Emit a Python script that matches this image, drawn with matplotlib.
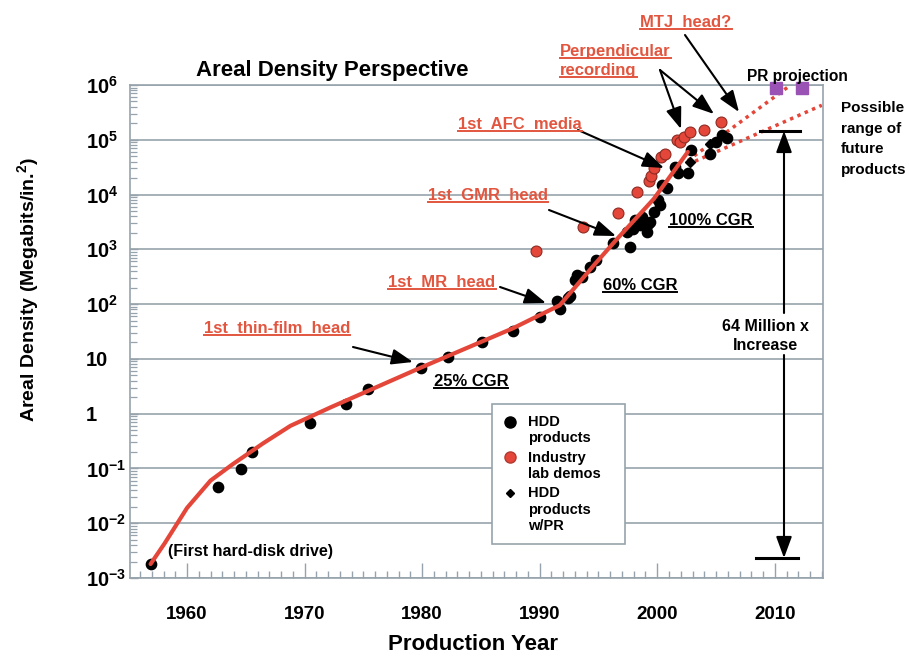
import numpy as np
import matplotlib
matplotlib.use('Agg')
import matplotlib.pyplot as plt
from matplotlib.lines import Line2D
from matplotlib.transforms import IdentityTransform
from matplotlib.ticker import FixedLocator, MultipleLocator, NullFormatter

plt.rcParams['font.family'] = ['Liberation Sans', 'DejaVu Sans']
plt.rcParams['font.weight'] = 'bold'
plt.rcParams['mathtext.fontset'] = 'custom'
plt.rcParams['mathtext.rm'] = 'Liberation Sans:bold'
plt.rcParams['mathtext.bf'] = 'Liberation Sans:bold'
plt.rcParams['mathtext.it'] = 'Liberation Sans:bold'

# ---------------- data ----------------
hdd_years = [1956.9, 1962.6, 1964.6, 1965.5, 1970.5, 1973.5, 1975.4, 1979.9, 1982.2,
             1985.1, 1987.7, 1990.0, 1991.7, 1991.5, 1992.4, 1992.6, 1993.0, 1993.2,
             1993.6, 1994.3, 1994.8, 1996.2, 1997.7, 1997.4, 1997.9, 1998.1, 1998.5,
             1998.7, 1999.1, 1999.2, 1999.4, 1999.7, 2000.1, 2000.2, 2000.4, 2000.8,
             2001.5, 2001.8, 2002.6, 2002.9, 2004.5, 2005.0, 2005.5, 2005.9]
hdd_density = [0.0018, 0.046, 0.098, 0.2, 0.67, 1.5, 2.8, 6.8, 11,
               20, 32, 57, 83, 115, 130, 140, 275, 340,
               318, 480, 630, 1280, 1100, 2100, 2400, 3400, 2750,
               3900, 2100, 2950, 3150, 4800, 8000, 6400, 14800, 12900,
               32000, 24500, 25000, 65000, 56000, 92000, 123000, 107000]

demo_years = [1989.7, 1993.7, 1996.7, 1998.3, 1999.3, 1999.5, 1999.7, 2000.3, 2000.7,
              2001.7, 2001.9, 2002.3, 2002.8, 2004.0, 2005.4]
demo_density = [950, 2600, 4700, 11000, 18000, 22000, 30000, 49000, 56000,
                100000, 92000, 113000, 137000, 150000, 215000]

pr_years = [2002.8, 2004.5]
pr_density = [40000, 85000]

proj_years = [2010.1, 2012.3]
proj_density = [870000, 870000]

trend_years = [1956.9, 1958.1, 1960.0, 1962.0, 1963.9, 1966.5, 1968.8, 1972.2, 1979.8,
               1987.7, 1990.0, 1991.7, 1994.6, 1996.5, 1999.7, 2002.6]
trend_density = [0.0018, 0.0043, 0.019, 0.06, 0.12, 0.29, 0.6, 1.3, 6.8,
                 36, 63, 95, 510, 1480, 8300, 60000]

upper_years = [2002.6, 2011.1]
upper_density = [41700, 912000]
lower_years = [2002.6, 2014.0]
lower_density = [35500, 427000]

xtick_years = [1960, 1970, 1980, 1990, 2000, 2010]
ytick_values = [1e-3, 1e-2, 1e-1, 1, 10, 1e2, 1e3, 1e4, 1e5, 1e6]
ytick_labels = [r'$\mathbf{10^{-3}}$', r'$\mathbf{10^{-2}}$', r'$\mathbf{10^{-1}}$', '1', '10',
                r'$\mathbf{10^{2}}$', r'$\mathbf{10^{3}}$', r'$\mathbf{10^{4}}$',
                r'$\mathbf{10^{5}}$', r'$\mathbf{10^{6}}$']

# ---------------- style ----------------
W, H = 909, 657
RED = '#e4473a'
RED_TXT = '#e2553f'
RED_EDGE = '#8e2a22'
GRAY = '#97a3ac'
PURPLE = '#9a52b5'

fig = plt.figure(figsize=(W / 100, H / 100), dpi=100)
fig.patch.set_facecolor('white')
ax = fig.add_axes([130 / W, (H - 578) / H, 693 / W, 493 / H])

ax.set_yscale('log')
ax.set_xlim(1955.15, 2014.1)
ax.set_ylim(1e-3, 1e6)

for s in ax.spines.values():
    s.set_color(GRAY)
    s.set_linewidth(1.2)

ax.yaxis.set_major_locator(FixedLocator(ytick_values))
ax.set_yticklabels(ytick_labels)
minor_y = [m * 10.0 ** e for e in range(-3, 6) for m in range(2, 10)]
ax.yaxis.set_minor_locator(FixedLocator(minor_y))
ax.yaxis.set_minor_formatter(NullFormatter())
ax.set_xticks(xtick_years)
ax.set_xticklabels([str(y) for y in xtick_years])
ax.xaxis.set_minor_locator(MultipleLocator(1))

ax.tick_params(axis='x', which='major', direction='in', length=11, width=1, color=GRAY,
               pad=20, labelsize=13.5)
ax.tick_params(axis='x', which='minor', direction='in', length=5, width=1, color=GRAY)
ax.tick_params(axis='y', which='major', direction='in', length=6, width=1, color=GRAY,
               pad=32, labelsize=14.5)
ax.tick_params(axis='y', which='minor', direction='in', length=5, width=0.9, color=GRAY)
for lab in ax.get_yticklabels():
    lab.set_horizontalalignment('left')
    lab.set_fontweight('bold')
for lab in ax.get_xticklabels():
    lab.set_fontweight('bold')

ax.yaxis.grid(True, which='major', color=GRAY, lw=1.2)
ax.set_axisbelow(True)

# ---------------- marks ----------------
ax.scatter(hdd_years, hdd_density, s=55, color='black', zorder=3, label='HDD\nproducts')
ax.scatter(demo_years, demo_density, s=62, facecolor=RED, edgecolor=RED_EDGE, lw=0.8,
           zorder=3, label='Industry\nlab demos')
ax.plot(pr_years, pr_density, 'D', color='black', ms=5, zorder=4, label='HDD\nproducts\nw/PR')
ax.plot(trend_years, trend_density, color=RED, lw=3, zorder=5, solid_capstyle='round',
        solid_joinstyle='round')
ax.plot(upper_years, upper_density, color=RED, lw=2.5, ls=(0, (1, 1.3)), zorder=2)
ax.plot(lower_years, lower_density, color=RED, lw=2.5, ls=(0, (1, 1.3)), zorder=2)
ax.plot(proj_years, proj_density, 's', color=PURPLE, ms=8, zorder=6, clip_on=False)

# ---------------- legend ----------------
h1 = Line2D([], [], ls='none', marker='o', color='black', ms=8)
h2 = Line2D([], [], ls='none', marker='o', mfc=RED, mec='#b23a30', ms=8)
h3 = Line2D([], [], ls='none', marker='D', color='black', ms=4.5)
x0 = (492 - 130) / 693
y_top = (578 - 404) / 493
leg = ax.legend([h1, h2, h3], ['HDD\nproducts', 'Industry\nlab demos', 'HDD\nproducts\nw/PR'],
                loc='upper left', bbox_to_anchor=(x0, y_top - 144 / 493, 133 / 693, 144 / 493),
                mode='expand',
                borderaxespad=0, fancybox=False, framealpha=1, edgecolor=GRAY,
                prop={'family': 'Liberation Sans', 'weight': 'bold', 'size': 10.5},
                handlelength=1.0, handletextpad=0.7, borderpad=0.75, labelspacing=0.38)
leg.get_frame().set_linewidth(1.2)
leg.set_zorder(7)
line_h = 10.5 * 1.2
for hnd, n in zip(leg.legend_handles, [2, 2, 3]):
    hnd.set_ydata(np.asarray(hnd.get_ydata()) + (n - 1) / 2 * line_h)


# ---------------- texts ----------------
def fx(px):
    return px / W


def fy(py):
    return 1 - py / H


fig.text(fx(332), fy(76), 'Areal Density Perspective', ha='center', va='baseline',
         fontsize=16, fontweight='bold')
fig.text(fx(28), fy(290), r'Areal Density (Megabits/in.$^{\mathbf{2}}$)', rotation=90,
         ha='center', va='center', fontsize=14, fontweight='bold')
fig.text(fx(473), fy(650), 'Production Year', ha='center', va='baseline',
         fontsize=16, fontweight='bold')

underlined = []


def txt(x, y, s, color='black', size=12, ha='center', ul=False):
    t = fig.text(fx(x), fy(y), s, ha=ha, va='baseline', fontsize=size, fontweight='bold',
                 color=color)
    if ul:
        underlined.append(t)
    return t


txt(277, 333, '1st  thin-film  head', RED_TXT, 12, ul=True)
txt(442, 287, '1st  MR  head', RED_TXT, 12, ul=True)
txt(488, 200, '1st  GMR  head', RED_TXT, 12, ul=True)
txt(520, 129, '1st  AFC  media', RED_TXT, 12, ul=True)
txt(560, 56, 'Perpendicular', RED_TXT, 12, ha='left', ul=True)
txt(560, 75, 'recording', RED_TXT, 12, ha='left', ul=True)
txt(686, 27, 'MTJ  head?', RED_TXT, 12, ul=True)
txt(471, 386, '25% CGR', 'black', 12, ul=True)
txt(640, 290, '60% CGR', 'black', 12, ul=True)
txt(711, 225, '100% CGR', 'black', 12, ul=True)
txt(797, 81, 'PR projection', 'black', 11.2)
for i, s in enumerate(['Possible', 'range of', 'future', 'products']):
    txt(841, 112 + i * 20.5, s, 'black', 11, ha='left')
txt(765, 331, '64 Million x', 'black', 11.5)
txt(765, 350, 'Increase', 'black', 11.5)
txt(251, 556, '(First hard-disk drive)', 'black', 11.5)

# ---------------- arrows ----------------
AP = dict(arrowstyle='-|>,head_length=0.65,head_width=0.24', color='black', lw=1.5,
          mutation_scale=20, shrinkA=0, shrinkB=0)


def arrow(tail, tip):
    ax.annotate('', xy=(tip[0], H - tip[1]), xytext=(tail[0], H - tail[1]),
                xycoords='figure pixels', textcoords='figure pixels', arrowprops=AP,
                annotation_clip=False, zorder=8)


arrow((353, 347), (413, 362))
arrow((500, 287), (546, 303))
arrow((549, 210), (616, 236))
arrow((578, 130), (664, 168))
arrow((660, 70), (681, 129))
arrow((660, 70), (714, 114))
arrow((685, 35), (739, 112))
arrow((784, 313), (784, 131))
arrow((784, 355), (784, 558))
for (xa, xb, yy) in [(760, 800, 131), (756, 798, 558)]:
    fig.add_artist(Line2D([xa, xb], [H - yy, H - yy], transform=IdentityTransform(),
                          color='black', lw=2.2))

# ---------------- underlines ----------------
fig.canvas.draw()
r = fig.canvas.get_renderer()
for t in underlined:
    bb = t.get_window_extent(r)
    fig.add_artist(Line2D([bb.x0, bb.x1], [bb.y0 + 1.2, bb.y0 + 1.2],
                          transform=IdentityTransform(), color=t.get_color(), lw=1.4))

fig.savefig('out.png', dpi=100, facecolor='white')
